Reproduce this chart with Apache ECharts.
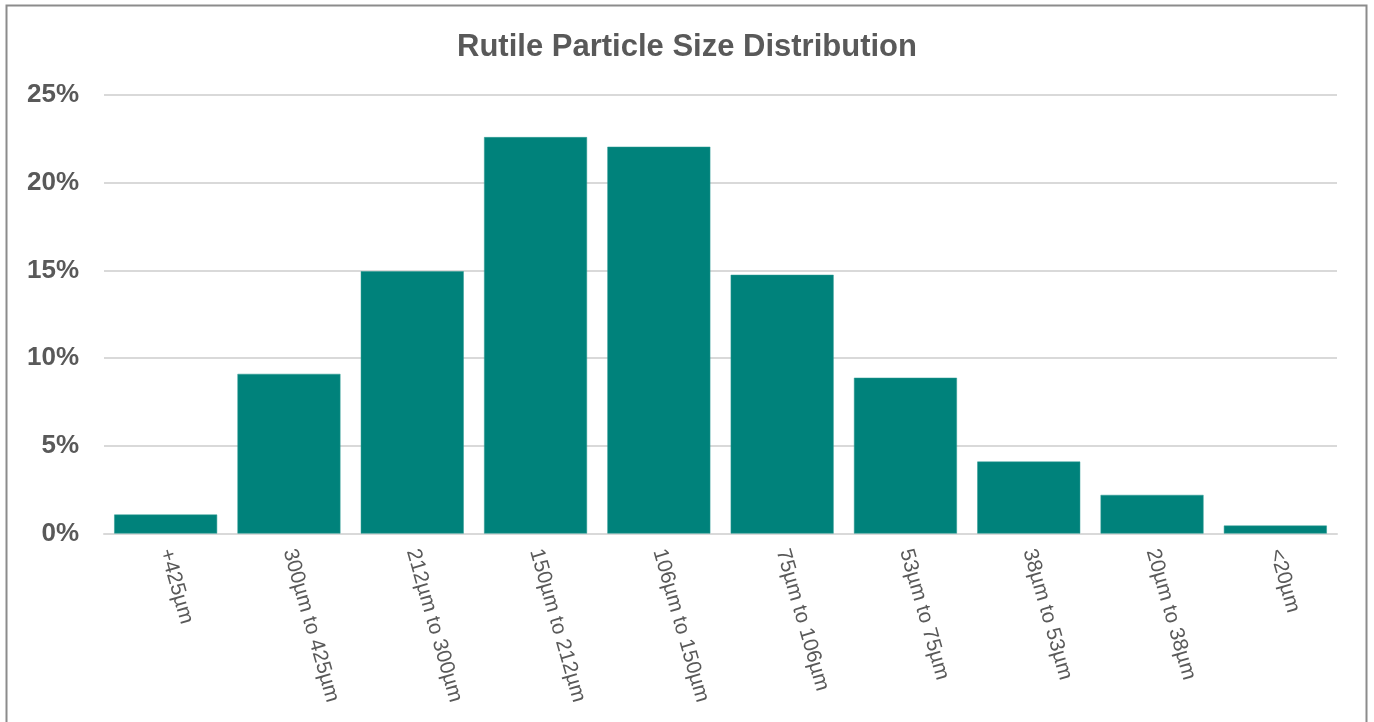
<!DOCTYPE html>
<html>
<head>
<meta charset="utf-8">
<script src="https://cdn.jsdelivr.net/npm/echarts@6/dist/echarts.min.js"></script>
<style>
  html, body { margin: 0; padding: 0; background: #fff; }
  #chart { width: 1374px; height: 722px; }
</style>
</head>
<body>
<div id="chart"></div>
<script>
// Size fractions (coarsest to finest)
const categories = ['+425µm', '300µm to 425µm', '212µm to 300µm', '150µm to 212µm', '106µm to 150µm',
  '75µm to 106µm', '53µm to 75µm', '38µm to 53µm', '20µm to 38µm', '<20µm'];
// Mass fraction retained, %
const massPercent = [1.08, 9.1, 14.95, 22.6, 22.05, 14.75, 8.88, 4.1, 2.2, 0.45];
const yTicks = [0, 5, 10, 15, 20, 25];

const chart = echarts.init(document.getElementById('chart'));
chart.setOption({
  backgroundColor: '#ffffff',
  animation: false,
  title: {
    text: 'Rutile Particle Size Distribution',
    left: 'center',
    top: 27,
    textStyle: { fontFamily: 'Liberation Sans, Arial, sans-serif', fontSize: 31, fontWeight: 'bold', color: '#595959' }
  },
  graphic: [{
    type: 'rect',
    shape: { x: 6.5, y: 5.5, width: 1360, height: 730 },
    style: { fill: 'none', stroke: '#8c8c8c', lineWidth: 2 },
    silent: true
  }],
  grid: { left: 104, right: 37, top: 95, bottom: 188.5 },
  xAxis: {
    type: 'category',
    data: categories,
    axisLine: { show: true, lineStyle: { color: '#d9d9d9', width: 2 } },
    axisTick: { show: false },
    axisLabel: {
      interval: 0,
      rotate: -74,
      margin: 16,
      fontFamily: 'Liberation Sans, Arial, sans-serif',
      fontSize: 21,
      color: '#595959'
    }
  },
  yAxis: {
    type: 'value',
    min: 0,
    max: yTicks[yTicks.length - 1],
    interval: 5,
    axisLine: { show: false },
    axisTick: { show: false },
    splitLine: { lineStyle: { color: '#d9d9d9', width: 2 } },
    axisLabel: {
      margin: 25,
      formatter: v => v + '%',
      fontFamily: 'Liberation Sans, Arial, sans-serif',
      fontSize: 26,
      fontWeight: 'bold',
      color: '#595959'
    }
  },
  series: [{
    type: 'bar',
    data: massPercent,
    barCategoryGap: '16.5%',
    itemStyle: { color: '#00827b', borderColor: '#2a9a93', borderWidth: 0.5 }
  }]
});
</script>
</body>
</html>
